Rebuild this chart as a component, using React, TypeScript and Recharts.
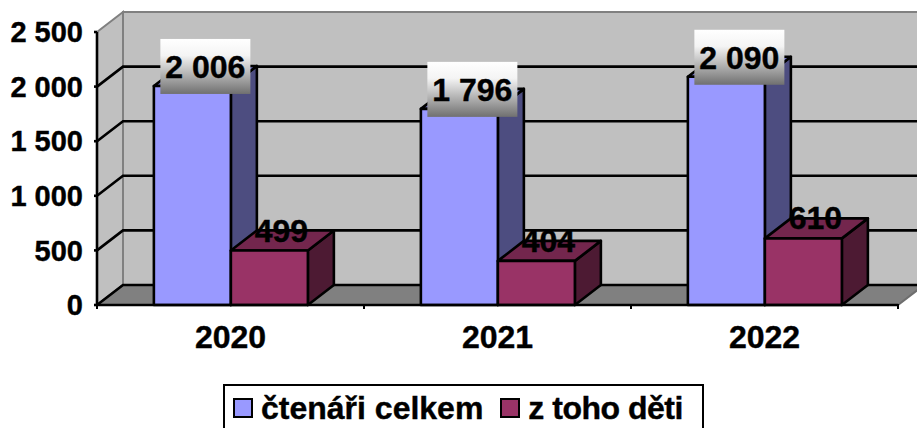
import React from "react";
import {
  BarChart,
  Bar,
  XAxis,
  YAxis,
  CartesianGrid,
  Legend,
  LabelList,
  ReferenceArea,
} from "recharts";

const years = ["2020", "2021", "2022"];
const readers = [2006, 1796, 2090];
const children = [499, 404, 610];
const valueTicks = [0, 500, 1000, 1500, 2000, 2500];

const chartData = years.map((year, i) => ({
  year,
  readers: readers[i],
  children: children[i],
}));

const DX = 26;
const DY = -20;
const LINE = 2.6;
const FONT = "'Liberation Sans', Arial, sans-serif";

const formatValue = (v: number | string) =>
  String(v).replace(/\B(?=(\d{3})+$)/g, " ");

// 3D box: front face plus top and right side
function makeBox(sideFill: string, topFill: string) {
  return function Box(props: any) {
    const { x, y, width, height, fill } = props;
    const r = x + width;
    const b = y + height;
    return (
      <g stroke="#000" strokeWidth={LINE} strokeLinejoin="round">
        <path
          d={`M${r} ${y}L${r + DX} ${y + DY}V${b + DY}L${r} ${b}Z`}
          fill={sideFill}
        />
        <path
          d={`M${x} ${y}L${x + DX} ${y + DY}H${r + DX}L${r} ${y}Z`}
          fill={topFill}
        />
        <rect x={x} y={y} width={width} height={height} fill={fill} />
      </g>
    );
  };
}

const ReadersBox = makeBox("#4D4D80", "#7373BF");
const ChildrenBox = makeBox("#4D1A33", "#73264D");

// side wall, back wall and floor of the 3D plot
function Walls(props: any) {
  const { x, y, width, height } = props;
  const r = x + width;
  const b = y + height;
  return (
    <g>
      <path
        d={`M${x} ${y}L${x + DX} ${y + DY}V${b + DY}L${x} ${b}Z`}
        fill="#C0C0C0"
        stroke="#808080"
        strokeWidth={2}
      />
      <path
        d={`M${x + DX} ${y + DY}H${r + DX}V${b + DY}H${x + DX}Z`}
        fill="#C0C0C0"
        stroke="#808080"
        strokeWidth={2}
      />
      <path
        d={`M${x} ${b}L${x + DX} ${b + DY}H${r + DX}L${r} ${b}Z`}
        fill="#808080"
        stroke="#6E6E6E"
        strokeWidth={2}
      />
    </g>
  );
}

function GridLine(props: any) {
  const { x1, y1, x2, y2 } = props;
  const first = y1 === props.offset?.top;
  if (first) return <g />;
  return (
    <path
      d={`M${x1} ${y1}L${x1 + DX} ${y1 + DY}H${x2 + DX}`}
      fill="none"
      stroke="#000"
      strokeWidth={LINE}
    />
  );
}

function YearTick(props: any) {
  const { x, y, width, visibleTicksCount, index, payload } = props;
  const half = width / visibleTicksCount / 2;
  const top = y - 1;
  return (
    <g>
      {index === 0 && (
        <line x1={x - half} x2={x - half} y1={top} y2={top + 5} stroke="#000" strokeWidth={2} />
      )}
      <line x1={x + half} x2={x + half} y1={top} y2={top + 5} stroke="#000" strokeWidth={2} />
      <text
        x={x}
        y={top + 44}
        textAnchor="middle"
        fontSize={32}
        fontWeight={700}
        fontFamily={FONT}
        fill="#000"
        stroke="#000"
        strokeWidth={0.4}
      >
        {payload.value}
      </text>
    </g>
  );
}

function ReadersLabel(props: any) {
  const { x, y, width, value } = props;
  const cx = x + width / 2 + 13;
  const cy = y - 19;
  return (
    <g>
      <rect x={cx - 45} y={cy - 28} width={90} height={55} fill="url(#labelFill)" />
      <text
        x={cx}
        y={cy + 11}
        textAnchor="middle"
        fontSize={32}
        fontWeight={700}
        fontFamily={FONT}
        fill="#000"
        stroke="#000"
        strokeWidth={0.4}
      >
        {formatValue(value)}
      </text>
    </g>
  );
}

function ChildrenLabel(props: any) {
  const { x, y, width, value } = props;
  return (
    <text
      x={x + width / 2 + 12}
      y={y - 9}
      textAnchor="middle"
      fontSize={32}
      fontWeight={700}
      fontFamily={FONT}
      fill="#000"
      stroke="#000"
      strokeWidth={0.4}
    >
      {formatValue(value)}
    </text>
  );
}

function LegendBox({ payload }: any) {
  return (
    <div
      style={{
        boxSizing: "border-box",
        width: 481,
        height: 60,
        border: "2px solid #000",
        background: "#fff",
        display: "flex",
        alignItems: "flex-start",
        gap: 17,
        paddingLeft: 8,
        paddingTop: 4,
        fontFamily: FONT,
        fontWeight: 700,
        fontSize: 32,
        lineHeight: "36px",
        color: "#000",
        whiteSpace: "nowrap",
        WebkitTextStroke: "0.4px #000",
      }}
    >
      {(payload || []).map((item: any, i: number) => (
        <span
          key={item.value}
          style={{ display: "flex", alignItems: "center", flexShrink: 0, letterSpacing: i === 1 ? -0.5 : 0 }}
        >
          <span
            style={{
              boxSizing: "border-box",
              width: 20,
              height: 20,
              flexShrink: 0,
              border: "2px solid #000",
              background: item.color,
              marginRight: 8,
            }}
          />
          {item.value}
        </span>
      ))}
    </div>
  );
}

export default function App() {
  return (
    <div style={{ position: "absolute", left: 0, top: 0, width: 917, height: 428, overflow: "hidden", background: "#fff" }}>
      <BarChart
        width={917}
        height={428}
        data={chartData}
        margin={{ top: 32, right: 19, bottom: 0, left: 0 }}
        barCategoryGap="21.3%"
        barGap={0}
      >
        <defs>
          <linearGradient id="labelFill" x1="0" y1="0" x2="0" y2="1">
            <stop offset="0%" stopColor="#FFFFFF" />
            <stop offset="30%" stopColor="#F4F4F4" />
            <stop offset="100%" stopColor="#707070" />
          </linearGradient>
        </defs>
        <ReferenceArea
          y1={0}
          y2={2500}
          ifOverflow="visible"
          shape={Walls}
          zIndex={-200}
        />
        <CartesianGrid vertical={false} horizontal={GridLine} />
        <XAxis
          dataKey="year"
          height={123}
          interval={0}
          tickLine={false}
          tickMargin={0}
          tickSize={0}
          axisLine={{ stroke: "#000", strokeWidth: LINE }}
          tick={YearTick}
        />
        <YAxis
          width={97}
          domain={[0, 2500]}
          ticks={valueTicks}
          interval={0}
          tickFormatter={formatValue}
          tickSize={3}
          tickMargin={11}
          axisLine={{ stroke: "#000", strokeWidth: LINE }}
          tickLine={{ stroke: "#000", strokeWidth: LINE }}
          tick={{ fontSize: 29, fontWeight: 700, fontFamily: FONT, fill: "#000", stroke: "#000", strokeWidth: 0.4 }}
        />
        <Legend
          layout="horizontal"
          verticalAlign="middle"
          content={LegendBox}
          itemSorter={null}
          wrapperStyle={{ left: 223, top: 384, width: 481, bottom: "auto" }}
        />
        <Bar
          dataKey="readers"
          name="čtenáři celkem"
          fill="#9999FF"
          shape={ReadersBox}
          isAnimationActive={false}
        >
          <LabelList dataKey="readers" content={ReadersLabel} />
        </Bar>
        <Bar
          dataKey="children"
          name="z toho děti"
          fill="#993366"
          shape={ChildrenBox}
          isAnimationActive={false}
        >
          <LabelList dataKey="children" content={ChildrenLabel} />
        </Bar>
      </BarChart>
    </div>
  );
}
